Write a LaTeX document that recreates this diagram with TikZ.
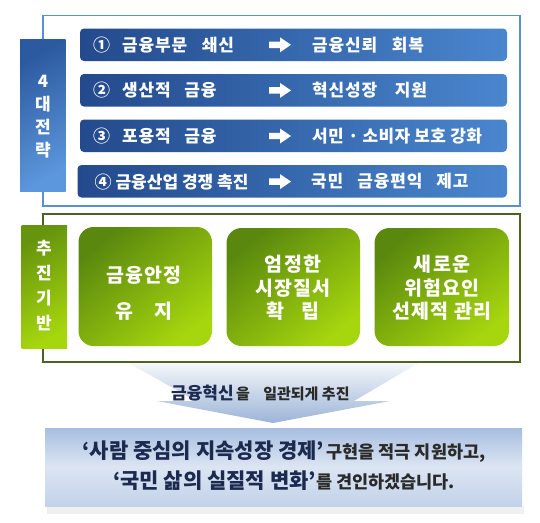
\documentclass[tikz,border=0pt]{standalone}
\usepackage{fontspec}
\newfontfamily\kr{Noto Sans CJK KR}
\definecolor{frameblue}{HTML}{5B8FD4}
\definecolor{rowL}{HTML}{234A8C}
\definecolor{rowR}{HTML}{4A86CE}
\definecolor{tabTop}{HTML}{2C5AA0}
\definecolor{tabBot}{HTML}{5C96DC}
\definecolor{framegreen}{HTML}{4E6226}
\definecolor{grTop}{HTML}{5A880E}
\definecolor{grBot}{HTML}{A6D60E}
\definecolor{chevTop}{HTML}{F6F8FB}
\definecolor{chevBot}{HTML}{9CB4D7}
\definecolor{boxTop}{HTML}{A7BEE0}
\definecolor{boxMid}{HTML}{DCE5F2}
\definecolor{boxBot}{HTML}{C2D2EA}
\definecolor{navy}{HTML}{1B2A4E}
\definecolor{darkgrey}{HTML}{2A2A2A}
\tikzset{
  rowbox/.style={rounded corners=4pt, left color=rowL, right color=rowR},
  rowtxt/.style={text=white, font=\kr\bfseries\fontsize{17}{20}\selectfont, anchor=west, inner sep=0pt},
  bluetab/.style={top color=tabTop, bottom color=tabBot, shading angle=30},
  greentab/.style={top color=grTop!85!grBot, bottom color=grBot, shading angle=30},
  greenbox/.style={rounded corners=15pt, top color=grTop, bottom color=grBot, shading angle=40},
  tabtxt/.style={text=white, font=\kr\bfseries\fontsize{17}{23}\selectfont, align=center, inner sep=0pt},
  gtxt/.style={text=white, font=\kr\bfseries\fontsize{19.5}{23.5}\selectfont, align=center, inner sep=0pt},
  bigarrow/.style={fill=white}
}
\begin{document}
\begin{tikzpicture}[x=1pt,y=-1pt]
\useasboundingbox (0,0) rectangle (540,522);
\fill[white] (0,0) rectangle (540,522);

% chevron arrow
\shade[top color=chevTop, bottom color=chevBot]
  (127,362) -- (420,362) -- (354,401) -- (390,401) -- (273,423) -- (157,401) -- (196,401) -- cycle;

% frames
\draw[frameblue, line width=1.5pt] (43,15.5) rectangle (520,206);
\draw[framegreen, line width=1.5pt] (43,214) rectangle (520,362);

% blue tab
\shade[bluetab] (20,39.5) rectangle (65.5,191);
\node[tabtxt] (tab1) at (43,116.5) {4\\대\\전\\략};

% rows
\shade[rowbox] (80,28.5) rectangle (507,61);
\shade[rowbox] (80,74) rectangle (507,106.5);
\shade[rowbox] (80,119.5) rectangle (507,152);
\shade[rowbox] (77.5,165) rectangle (507,197.5);

\node[rowtxt] (r1a) at (93,44.8) {\addfontfeature{LetterSpace=5}①\hspace{12pt}금융부문\hspace{14.5pt}쇄신};
\node[rowtxt] (r1b) at (312,44.8) {\addfontfeature{LetterSpace=5}금융신뢰\hspace{14.5pt}회복};
\node[rowtxt] (r2a) at (93,90.4) {\addfontfeature{LetterSpace=5}②\hspace{12pt}생산적\hspace{13.5pt}금융};
\node[rowtxt] (r2b) at (312,90.4) {\addfontfeature{LetterSpace=5}혁신성장\hspace{17.5pt}지원};
\node[rowtxt] (r3a) at (93,136) {\addfontfeature{LetterSpace=5}③\hspace{12pt}포용적\hspace{13.5pt}금융};
\node[rowtxt] (r3b) at (312,136) {\addfontfeature{LetterSpace=2}서민 · 소비자 보호 강화};
\node[rowtxt] (r4a) at (94.5,181.6) {④ 금융산업 경쟁 촉진};
\node[rowtxt] (r4b) at (311,181.6) {\addfontfeature{LetterSpace=5}국민\hspace{14pt}금융편익\hspace{14pt}제고};

\foreach \yy in {44.8,90.4,136,181.6}{
  \fill[bigarrow] (269,\yy-3.2) -- (280,\yy-3.2) -- (280,\yy-7.5) -- (291,\yy) -- (280,\yy+7.5) -- (280,\yy+3.2) -- (269,\yy+3.2) -- cycle;
}

% green tab
\shade[greentab] (21.5,225) rectangle (67,348);
\node[tabtxt, font=\kr\bfseries\fontsize{17}{25}\selectfont] (tab2) at (44,286) {추\\진\\기\\반};

% green boxes
\shade[greenbox] (78.5,227) rectangle (212,346);
\shade[greenbox] (226.5,228) rectangle (360,346);
\shade[greenbox] (374.5,228) rectangle (509,346);
\node[gtxt] (g1) at (144,293) {\addfontfeature{LetterSpace=7}금융안정\\[13pt]유\hspace{1.1em}지};
\node[gtxt] (g2) at (293,288) {\addfontfeature{LetterSpace=7}엄정한\\\addfontfeature{LetterSpace=7}시장질서\\확\hspace{0.9em}립};
\node[gtxt] (g3) at (442,288) {\addfontfeature{LetterSpace=7}새로운\\\addfontfeature{LetterSpace=7}위험요인\\\addfontfeature{LetterSpace=5}선제적 관리};

% middle text
\node[inner sep=0pt, anchor=west] (mid) at (171,393)
  {\kr\bfseries{\color{navy}\fontsize{17}{20}\selectfont 금융혁신} {\color{darkgrey}\fontsize{15}{18}\selectfont 을\hspace{0.9em}일관되게 추진}};

% bottom box
\fill[gray!12] (47,506) rectangle (524,514);
\shade[top color=boxTop, bottom color=boxBot, middle color=boxMid] (45,428) rectangle (522,506);
\node[inner sep=0pt] (b1) at (284,452)
  {\kr\bfseries{\color{navy}\fontsize{21}{24}\selectfont ‘사람 중심의 지속성장 경제’} {\color{darkgrey}\fontsize{17.5}{20}\selectfont 구현을 적극 지원하고,}};
\node[inner sep=0pt] (b2) at (284,481)
  {\kr\bfseries{\color{navy}\fontsize{21}{24}\selectfont ‘국민 삶의 실질적 변화’}{\color{darkgrey}\fontsize{17.5}{20}\selectfont 를 견인하겠습니다.}};
\end{tikzpicture}
\end{document}
